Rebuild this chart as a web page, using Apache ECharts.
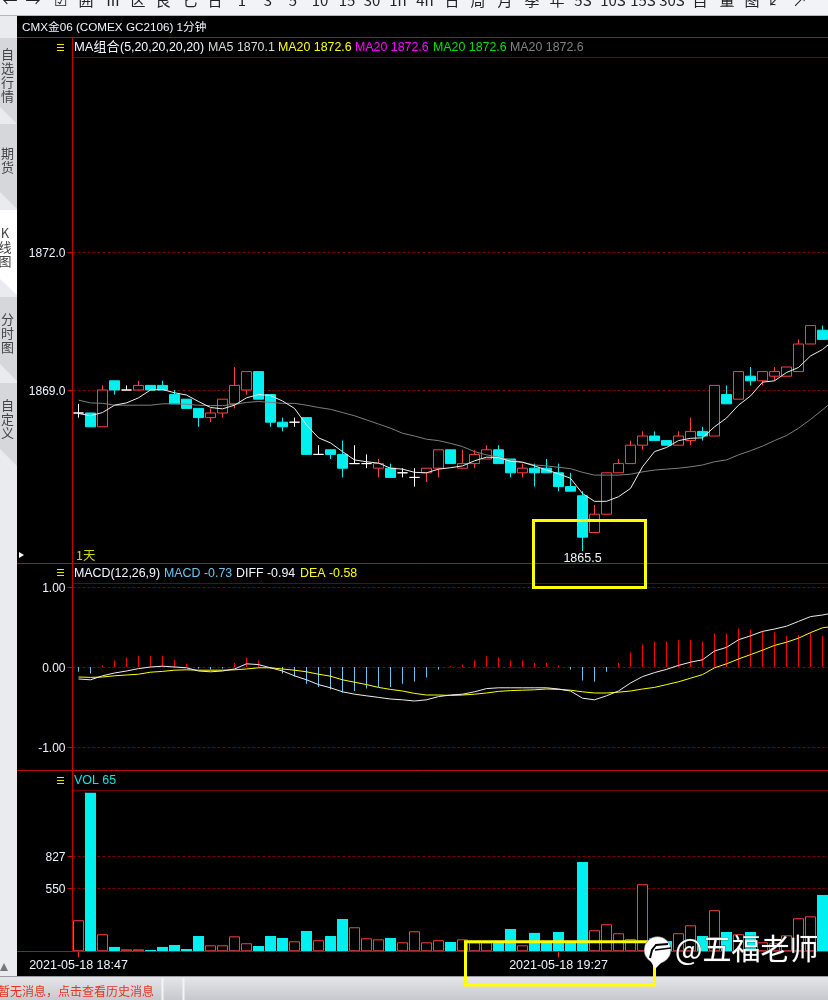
<!DOCTYPE html>
<html><head><meta charset="utf-8">
<style>html,body{margin:0;padding:0;background:#000}#c{width:828px;height:1000px}</style>
<script src="https://cdn.jsdelivr.net/npm/echarts@6/dist/echarts.min.js"></script>
</head><body><div id="c"></div>
<script>
const categories = ["18:47","18:48","18:49","18:50","18:51","18:52","18:53","18:54","18:55","18:56","18:57","18:58","18:59",
"19:00","19:01","19:02","19:03","19:04","19:05","19:06","19:07","19:08","19:09","19:10","19:11","19:12","19:13","19:14","19:15","19:16","19:17","19:18","19:19","19:20","19:21","19:22","19:23","19:24","19:25","19:26","19:27","19:28","19:29","19:30","19:31","19:32","19:33","19:34","19:35","19:36","19:37","19:38","19:39","19:40","19:41","19:42","19:43","19:44","19:45","19:46","19:47","19:48","19:49","19:50"];
// open, close, low, high
const candles = [
[1868.5,1868.5,1868.4,1868.7],[1868.5,1868.2,1868.2,1868.5],[1868.2,1869.0,1868.2,1869.1],[1869.2,1869.0,1868.9,1869.2],
[1869.0,1869.0,1869.0,1869.1],[1869.0,1869.1,1869.0,1869.2],[1869.1,1869.0,1869.0,1869.1],[1869.1,1869.0,1869.0,1869.2],
[1868.9,1868.7,1868.7,1869.0],[1868.8,1868.6,1868.6,1868.8],[1868.6,1868.4,1868.2,1868.6],[1868.4,1868.5,1868.3,1868.6],
[1868.5,1868.8,1868.4,1868.8],[1868.7,1869.1,1868.6,1869.5],[1869.0,1869.4,1868.9,1869.4],[1869.4,1868.8,1868.8,1869.4],
[1868.9,1868.3,1868.2,1868.9],[1868.3,1868.2,1868.1,1868.4],[1868.3,1868.3,1868.2,1868.4],[1868.4,1867.6,1867.6,1868.4],
[1867.6,1867.6,1867.6,1867.8],[1867.7,1867.6,1867.5,1867.7],[1867.6,1867.3,1867.1,1867.9],[1867.4,1867.4,1867.4,1867.8],
[1867.4,1867.4,1867.3,1867.6],[1867.3,1867.4,1867.1,1867.5],[1867.3,1867.1,1867.1,1867.4],[1867.2,1867.2,1867.1,1867.3],
[1867.1,1867.1,1866.9,1867.3],[1867.2,1867.3,1867.0,1867.3],[1867.3,1867.7,1867.1,1867.7],[1867.7,1867.4,1867.4,1867.7],
[1867.3,1867.4,1867.3,1867.7],[1867.4,1867.6,1867.3,1867.7],[1867.5,1867.7,1867.5,1867.8],[1867.7,1867.4,1867.4,1867.8],
[1867.5,1867.2,1867.1,1867.5],[1867.2,1867.3,1867.1,1867.4],[1867.3,1867.2,1866.9,1867.4],[1867.3,1867.2,1867.2,1867.5],
[1867.2,1866.9,1866.8,1867.4],[1866.9,1866.8,1866.8,1867.2],[1866.7,1865.8,1865.5,1866.8],[1865.9,1866.3,1865.9,1866.5],
[1866.3,1867.2,1866.3,1867.2],[1867.2,1867.4,1867.2,1867.5],[1867.4,1867.8,1867.4,1867.9],[1867.8,1868.0,1867.7,1868.1],
[1868.0,1867.9,1867.9,1868.1],[1867.9,1867.8,1867.8,1867.9],[1867.8,1868.0,1867.8,1868.1],[1867.9,1868.1,1867.8,1868.4],
[1868.1,1868.0,1867.9,1868.2],[1868.0,1869.1,1868.0,1869.1],[1868.9,1868.7,1868.7,1869.1],[1868.8,1869.4,1868.8,1869.4],
[1869.3,1869.2,1869.1,1869.5],[1869.2,1869.4,1869.1,1869.4],[1869.3,1869.4,1869.2,1869.5],[1869.3,1869.5,1869.3,1869.5],
[1869.4,1870.0,1869.4,1870.1],[1870.0,1870.4,1870.0,1870.4],[1870.3,1870.1,1870.1,1870.4]];
const ma5 = [1868.49,1868.44,1868.51,1868.67,1868.72,1868.83,1869.00,1869.01,1868.94,1868.89,1868.75,1868.62,1868.59,1868.67,1868.83,1868.90,1868.88,1868.76,1868.60,1868.24,
1867.96,1867.85,1867.66,1867.48,1867.44,1867.41,1867.30,1867.28,1867.21,1867.20,1867.28,1867.31,1867.35,1867.46,1867.54,1867.53,1867.45,1867.43,1867.35,1867.26,
1867.18,1867.08,1866.75,1866.58,1866.58,1866.68,1866.86,1867.33,1867.66,1867.75,1867.90,1867.95,1867.96,1868.20,1868.39,1868.67,1868.87,1869.17,1869.20,1869.38,1869.49,1869.74,1869.88,1870.10];
const ma20 = [1868.78,1868.72,1868.71,1868.67,1868.67,1868.67,1868.67,1868.70,1868.70,1868.69,1868.67,1868.66,1868.66,1868.69,1868.73,1868.75,1868.73,1868.71,1868.71,1868.67,
1868.62,1868.58,1868.51,1868.44,1868.35,1868.26,1868.17,1868.06,1868.00,1867.93,1867.90,1867.84,1867.77,1867.66,1867.59,1867.54,1867.48,1867.43,1867.37,1867.35,
1867.32,1867.29,1867.21,1867.15,1867.15,1867.15,1867.17,1867.22,1867.26,1867.28,1867.30,1867.33,1867.37,1867.44,1867.48,1867.59,1867.68,1867.78,1867.90,1868.01,1868.17,1868.36,1868.57,1868.78];
const macdBars = [-0.06,-0.08,0.02,0.08,0.12,0.14,0.14,0.14,0.09,0.04,-0.02,-0.03,-0.02,0.05,0.12,0.08,-0.02,-0.08,-0.12,-0.21,-0.25,-0.28,-0.32,-0.30,-0.27,-0.25,-0.25,-0.21,-0.18,-0.13,-0.03,
0.01,0.03,0.08,0.13,0.12,0.08,0.08,0.05,0.05,0.02,-0.03,-0.17,-0.18,-0.06,0.05,0.18,0.28,0.32,0.32,0.33,0.34,0.32,0.42,0.42,0.48,0.47,0.45,0.43,0.39,0.40,0.43,0.39];
const diff = [-0.15,-0.16,-0.11,-0.075,-0.05,-0.02,0,0.01,0,-0.01,-0.05,-0.06,-0.05,-0.025,0.04,0.03,-0.01,-0.05,-0.11,-0.16,-0.22,-0.26,-0.31,-0.34,-0.36,-0.38,-0.40,-0.41,-0.425,-0.41,-0.37,
-0.35,-0.34,-0.31,-0.27,-0.26,-0.26,-0.26,-0.26,-0.26,-0.275,-0.30,-0.39,-0.41,-0.36,-0.30,-0.20,-0.12,-0.07,-0.03,0.02,0.06,0.09,0.20,0.245,0.34,0.39,0.445,0.475,0.51,0.57,0.63,0.65,0.68];
const dea = [-0.125,-0.13,-0.125,-0.11,-0.10,-0.09,-0.065,-0.055,-0.04,-0.035,-0.04,-0.04,-0.04,-0.035,-0.025,-0.01,-0.01,-0.025,-0.04,-0.06,-0.09,-0.115,-0.16,-0.19,-0.22,-0.255,-0.28,-0.30,-0.33,-0.35,-0.35,
-0.355,-0.35,-0.34,-0.325,-0.305,-0.295,-0.29,-0.285,-0.275,-0.28,-0.29,-0.31,-0.325,-0.325,-0.315,-0.30,-0.275,-0.255,-0.22,-0.185,-0.14,-0.095,-0.01,0.04,0.10,0.155,0.21,0.27,0.31,0.36,0.43,0.49,0.51];
const volume = [270,1378,148,38,17,17,12,38,55,20,133,52,52,130,70,46,133,116,87,177,96,133,281,209,113,104,116,78,174,
78,96,81,104,78,78,85,194,52,160,84,168,84,777,183,235,157,107,583,113,90,157,226,133,357,168,148,168,78,70,139,287,304,490];
const priceTicks = [1872,1869];
const macdTicks = [1,0,-1];
const volTicks = [827,550];
const dateLabelIdx = [0,40];
const lowLabel = 1865.5;

const RED='#ff4040', CYAN='#00f0f0', DARK='#7a0000', BRIGHT='#c00c0c';
const FONT='"Liberation Sans","Noto Sans CJK SC",sans-serif';
const CJK='"Noto Sans CJK SC",sans-serif';
const LBL='#eef4ff';

const candleData = candles.map(c=>{
  const doji=c[0]===c[1];
  return {value:c,itemStyle:doji?{color:'#fff',color0:'#fff',borderColor:'#fff',borderColor0:'#fff',borderColorDoji:'#fff'}:undefined};
});
const gridMark = (ticks)=>({symbol:'none',silent:true,z:1,animation:false,label:{show:false},
  lineStyle:{color:DARK,type:[3,2],width:1},data:ticks.map(v=>({yAxis:v}))});

const T=(text,x,y,fill,o={})=>({type:'text',z:o.z||50,silent:true,style:Object.assign({text,x,y,fill,font:(o.size||12.4)+'px '+(o.cjk?CJK:FONT),textAlign:o.align||'left',textVerticalAlign:o.va||'middle',lineHeight:o.lh},o.style||{})});
const L=(x1,y1,x2,y2,stroke,w=1,z=40)=>({type:'line',z,silent:true,shape:{x1,y1,x2,y2},style:{stroke,lineWidth:w}});
const R=(x,y,width,height,fill,z=30)=>({type:'rect',z,silent:true,shape:{x,y,width,height},style:{fill}});
const P=(points,fill,z=31)=>({type:'polygon',z,silent:true,shape:{points},style:{fill}});
const Box=(x,y,width,height)=>({type:'rect',z:100,silent:true,shape:{x,y,width,height},style:{fill:'none',stroke:'#ffff00',lineWidth:3}});
const menu=(x,y)=>[L(x,y-2.5,x+7,y-2.5,'#e8e800',1),L(x,y+0.5,x+7,y+0.5,'#e8e800',1),L(x,y+3.5,x+7,y+3.5,'#e8e800',1)];

const chrome=[
 R(0,0,828,15,'#f1f3f6'),L(0,15.5,828,15.5,'#b4b6ba',1,41),
 R(0,15,17,962,'#e9ebef'),
 P([[0,38],[17,38],[17,124],[0,107]],'#d5d7da'),
 P([[0,124],[17,124],[17,209],[0,192]],'#d5d7da'),
 P([[0,210],[17,210],[17,295],[0,279]],'#ffffff'),
 P([[0,297],[17,297],[17,381],[0,364]],'#d5d7da'),
 P([[0,383],[17,383],[17,466],[0,449]],'#d5d7da'),
 T('自\n选\n行\n情',7.5,75,'#444',{cjk:1,size:13,align:'center',lh:14}),
 T('期\n货',7.5,160,'#444',{cjk:1,size:13,align:'center',lh:14}),
 T('K\n线\n图',5,247,'#444',{cjk:1,size:13,align:'center',lh:14}),
 T('分\n时\n图',7.5,333,'#444',{cjk:1,size:13,align:'center',lh:14}),
 T('自\n定\n义',7.5,419,'#444',{cjk:1,size:13,align:'center',lh:14}),
 P([[4,963],[0,971],[8,971]],'#777'),
 R(0,977,828,23,{type:'linear',x:0,y:0,x2:0,y2:1,colorStops:[{offset:0,color:'#e4e6ea'},{offset:1,color:'#c6c8cd'}]}),
 L(0,976.5,828,976.5,'#9a9ca0',1,41),
 L(162.5,978,162.5,1000,'#f4f4f4',2,41),L(183.5,978,183.5,1000,'#f4f4f4',2,41),
 T('暂无消息，点击查看历史消息',-2,991.5,'#e8321e',{cjk:1,size:12}),
 L(17,37.5,828,37.5,BRIGHT),L(72,57.5,828,57.5,DARK),
 L(17,563.5,828,563.5,BRIGHT),L(72,583.5,828,583.5,DARK),
 L(17,770.5,828,770.5,BRIGHT),L(72,790.5,828,790.5,DARK),
 L(17,951.5,828,951.5,BRIGHT),
 L(72.5,38,72.5,952,'#c80000'),
 T('CMX金06 (COMEX GC2106) 1分钟',22,27.5,'#f0f4ff',{size:11.7}),
 ...menu(57,47),...menu(57,572),...menu(57,780),
 T('MA组合',74,47.5,'#f4f6ff',{size:13}),
 T('(5,20,20,20,20)',120,47.5,'#f4f6ff'),
 T('MA5 1870.1',208,47.5,'#d8d8d8'),
 T('MA20 1872.6',278,47.5,'#ffff00'),
 T('MA20 1872.6',355,47.5,'#ff00ff'),
 T('MA20 1872.6',433,47.5,'#00e000'),
 T('MA20 1872.6',510,47.5,'#808080'),
 T('1天',76,555,'#d8d800',{cjk:1}),
 P([[19,552],[19,558],[24,555]],'#ffffff'),
 T('MACD(12,26,9)',74,573.5,'#f4f6ff'),
 T('MACD -0.73',164,573.5,'#6cc5f0'),
 T('DIFF -0.94',236,573.5,'#f4f6ff'),
 T('DEA -0.58',300,573.5,'#ffff00'),
 T('VOL 65',74,780.5,'#00e8e8'),
 Box(533.5,520.5,112,67),
 Box(465.5,941.8,189,43.2),
 // watermark
 {type:'circle',z:101,silent:true,shape:{cx:657.5,cy:950,r:13.5},style:{fill:'#fff',stroke:'#333',lineWidth:0.5}},
 P([[650,960],[655,969],[664,960]],'#ffffff',101),
 {type:'polyline',z:102,silent:true,shape:{points:[[668,944],[656,945],[652,950],[650,958]]},style:{fill:'none',stroke:'#000',lineWidth:2}},
 L(655,950,671,948,'#000',1.5,102),
 T('@五福老师',675,948.5,'#ffffff',{cjk:1,size:29,z:101,style:{stroke:'#444',lineWidth:0.6}})
];
// clipped toolbar glyphs
[['←',10],['→',33],['☑',60],['囲',86],['Ⅲ',113],['区',138],['艮',163],['匕',190],['日',215],
 ['1',242],['3',268],['5',293],['10',320],['15',347],['30',372],['1h',398],['4h',425],['日',452],['周',478],['月',505],['季',532],['年',557],
 ['5S',583],['10S',613],['15S',643],['30S',672],['自',700],['量',727],['图',752],['↙',775],['↗',800]
].forEach(a=>chrome.push(T(a[0],a[1],8,'#222',{cjk:1,size:15,align:'center',va:'bottom'})));

const yAxisBase=(gridIndex,min,max,ticks,fmt)=>({type:'value',gridIndex,min,max,position:'left',scale:true,
  splitLine:{show:false},axisLine:{show:false},
  axisTick:{show:true,length:5,customValues:ticks,lineStyle:{color:BRIGHT}},
  axisLabel:{show:true,margin:7,color:LBL,fontFamily:FONT,fontSize:12,verticalAlign:'top',lineHeight:3,customValues:ticks,formatter:fmt}});
const xAxisBase=(gridIndex,show)=>({type:'category',gridIndex,data:categories,boundaryGap:true,
  axisLine:{show:false},splitLine:{show:false},
  axisTick:{show,length:6,alignWithLabel:true,interval:i=>dateLabelIdx.includes(i),lineStyle:{color:'#ff3030'}},
  axisLabel:{show,margin:8,color:LBL,fontFamily:FONT,fontSize:12.5,hideOverlap:false,interval:i=>dateLabelIdx.includes(i),formatter:v=>'2021-05-18 '+v}});

const gridBase={left:72.5,width:768,outerBoundsMode:'none'};
const option={
 backgroundColor:'#000',animation:false,
 grid:[Object.assign({top:57,height:506},gridBase),Object.assign({top:564,height:206},gridBase),Object.assign({top:790.3,height:161},gridBase)],
 xAxis:[xAxisBase(0,false),xAxisBase(1,false),xAxisBase(2,true)],
 yAxis:[
  yAxisBase(0,1869+(390-563)/46,1869+(390-57)/46,priceTicks,v=>v.toFixed(1)),
  yAxisBase(1,-1.2875,1.2875,macdTicks,v=>v.toFixed(2)),
  yAxisBase(2,0,1400,volTicks,v=>String(v))
 ],
 graphic:{elements:chrome},
 series:[
  {type:'candlestick',xAxisIndex:0,yAxisIndex:0,data:candleData,barWidth:10,
   itemStyle:{color:'#000',color0:CYAN,borderColor:RED,borderColor0:CYAN,borderColorDoji:'#fff',borderWidth:1},
   markLine:gridMark(priceTicks),
   markPoint:{symbol:'rect',symbolSize:0,silent:true,animation:false,
     data:[{coord:[42,lowLabel],value:lowLabel}],
     label:{show:true,position:'bottom',distance:1,color:'#f0f6ff',fontFamily:FONT,fontSize:12.5,formatter:p=>p.value.toFixed(1)}}},
  {type:'line',xAxisIndex:0,yAxisIndex:0,data:ma20,showSymbol:false,z:3,lineStyle:{color:'#7e7e7e',width:1}},
  {type:'line',xAxisIndex:0,yAxisIndex:0,data:ma5,showSymbol:false,z:4,lineStyle:{color:'#ededed',width:1}},
  {type:'bar',xAxisIndex:1,yAxisIndex:1,barWidth:1,
   data:macdBars.map(v=>({value:v,itemStyle:{color:v>=0?'#ff0000':'#6cc5f0'}})),markLine:gridMark(macdTicks)},
  {type:'line',xAxisIndex:1,yAxisIndex:1,data:dea,showSymbol:false,z:3,lineStyle:{color:'#ffff00',width:1}},
  {type:'line',xAxisIndex:1,yAxisIndex:1,data:diff,showSymbol:false,z:4,lineStyle:{color:'#ededed',width:1}},
  {type:'bar',xAxisIndex:2,yAxisIndex:2,barWidth:11,
   data:volume.map((v,i)=>{const up=candles[i][1]>=candles[i][0];
     return {value:v,itemStyle:up?{color:'#000',borderColor:RED,borderWidth:1}:{color:CYAN}};}),
   markLine:gridMark(volTicks)}
 ]
};
const chart=echarts.init(document.getElementById('c'),null,{renderer:'canvas',width:828,height:1000});
chart.setOption(option);
</script></body></html>
